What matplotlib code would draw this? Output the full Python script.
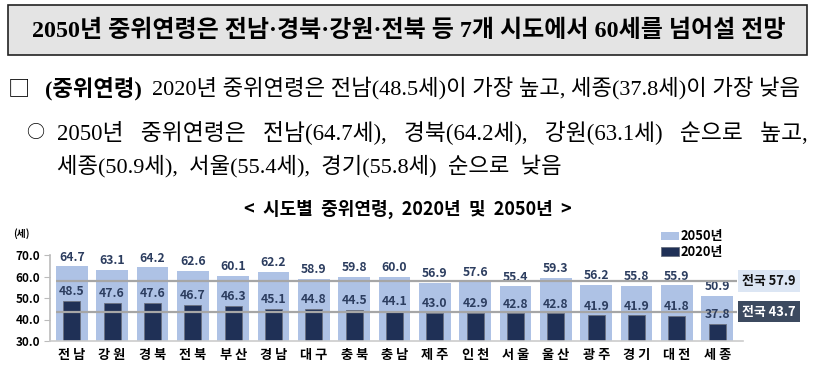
import numpy as np
import matplotlib.pyplot as plt
from matplotlib.patches import Rectangle

# data
regions = ['전남', '강원', '경북', '전북', '부산', '경남', '대구', '충북', '충남',
           '제주', '인천', '서울', '울산', '광주', '경기', '대전', '세종']
age_2050 = [64.7, 63.1, 64.2, 62.6, 60.1, 62.2, 58.9, 59.8, 60.0,
            56.9, 57.6, 55.4, 59.3, 56.2, 55.8, 55.9, 50.9]
age_2020 = [48.5, 47.6, 47.6, 46.7, 46.3, 45.1, 44.8, 44.5, 44.1,
            43.0, 42.9, 42.8, 42.8, 41.9, 41.9, 41.8, 37.8]
nation_2050 = 57.9
nation_2020 = 43.7
yticks = [30.0, 40.0, 50.0, 60.0, 70.0]

LIGHT = '#aec2e5'
DARK = '#1f3056'
LABEL = '#2c3d5f'
KR = ['Noto Sans CJK KR', 'DejaVu Sans']
SERIF = ['Liberation Serif', 'Noto Sans CJK KR']

W, H = 814, 368
fig = plt.figure(figsize=(W / 100, H / 100), dpi=100)
fig.set_facecolor('white')


def fx(px):
    return px / W


def fy(py):
    return 1 - py / H


# headline box
fig.patches.append(Rectangle((fx(8), fy(55)), fx(807) - fx(8), fy(5) - fy(55),
                             transform=fig.transFigure, facecolor='#e4e4e4',
                             edgecolor='#222222', lw=1.2))
fig.text(fx(32), fy(31), '2050년 중위연령은 전남·경북·강원·전북 등 7개 시도에서 60세를 넘어설 전망',
         family=SERIF, fontsize=17.3, fontweight='bold', va='center', ha='left')

# summary text
fig.text(fx(8), fy(89), '□', family=KR, fontsize=16, va='center', ha='left')
fig.text(fx(45), fy(89), '(중위연령)', family=SERIF, fontsize=16, fontweight='bold',
         va='center', ha='left')
fig.text(fx(152), fy(89), '2020년 중위연령은 전남(48.5세)이 가장 높고, 세종(37.8세)이 가장 낮음',
         family=SERIF, fontsize=16, va='center', ha='left')
fig.text(fx(26), fy(133), '○', family=KR, fontsize=13, va='center', ha='left')
fig.text(fx(57), fy(133), '2050년   중위연령은   전남(64.7세),   경북(64.2세),   강원(63.1세)   순으로   높고,',
         family=SERIF, fontsize=16.4, va='center', ha='left')
fig.text(fx(57), fy(166), '세종(50.9세),  서울(55.4세),  경기(55.8세)  순으로  낮음',
         family=SERIF, fontsize=16, va='center', ha='left')

fig.text(fx(408), fy(209), '<  시도별  중위연령,  2020년  및  2050년  >', family=KR,
         fontsize=13, fontweight='bold', va='center', ha='center')

# chart
ax = fig.add_axes([fx(50), fy(341), fx(743) - fx(50), fy(255) - fy(341)])
x = np.arange(len(regions))
ax.bar(x, age_2050, width=0.78, color=LIGHT, zorder=1, label='2050년')
ax.bar(x, age_2020, width=0.42, color=DARK, edgecolor='#6a7080', lw=0.6, zorder=2,
       label='2020년')

ax.set_ylim(30, 70)
ax.set_xlim(-0.54, 16.64)
ax.set_yticks(yticks)
ax.set_yticklabels([f'{v:.1f}' for v in yticks], fontsize=8.5, fontweight='bold',
                   family=KR)
ax.set_xticks(x)
ax.set_xticklabels([' '.join(r) for r in regions], fontsize=9.5, fontweight='bold',
                   family=KR)
ax.tick_params(axis='x', length=0, pad=5)
ax.tick_params(axis='y', length=4, color='#bbbbbb', pad=3)
for s in ['top', 'right']:
    ax.spines[s].set_visible(False)
ax.spines['left'].set_color('#bbbbbb')
ax.spines['bottom'].set_color('#cccccc')
ax.spines['left'].set_linewidth(1.2)
ax.spines['bottom'].set_linewidth(1.2)

for xi, v in zip(x, age_2050):
    ax.text(xi, v + 1.3, f'{v:.1f}', ha='center', va='bottom', fontsize=8.8,
            fontweight='bold', color=LABEL, family=KR)
for xi, v in zip(x, age_2020):
    ax.text(xi, v + 1.3, f'{v:.1f}', ha='center', va='bottom', fontsize=8.8,
            fontweight='bold', color=LABEL, family=KR, zorder=4)

ax.hlines([nation_2050, nation_2020], -0.4, 16.5, colors='#a6a6a6', lw=1.6, zorder=3)
ax.text(16.62, nation_2050, '전국 57.9', ha='left', va='center', fontsize=9.3,
        fontweight='bold', color='#111111', family=KR, clip_on=False,
        bbox=dict(boxstyle='square,pad=0.3', fc='#dce6f4', ec='none'))
ax.text(16.62, nation_2020, '전국 43.7', ha='left', va='center', fontsize=9.3,
        fontweight='bold', color='white', family=KR, clip_on=False,
        bbox=dict(boxstyle='square,pad=0.3', fc='#3c4a5f', ec='none'))

ax.text(-1.45, 80, '(세)', fontsize=7, fontweight='bold', family=KR,
        ha='left', va='center', clip_on=False)

leg = ax.legend(loc='upper left', bbox_to_anchor=((656 - 50) / (743 - 50), 1.36),
                frameon=False, prop={'family': KR, 'weight': 'bold', 'size': 9.3},
                handlelength=1.4, handleheight=0.6, handletextpad=0.1, labelspacing=0.15,
                borderaxespad=0)

fig.savefig('out.png', dpi=100)
